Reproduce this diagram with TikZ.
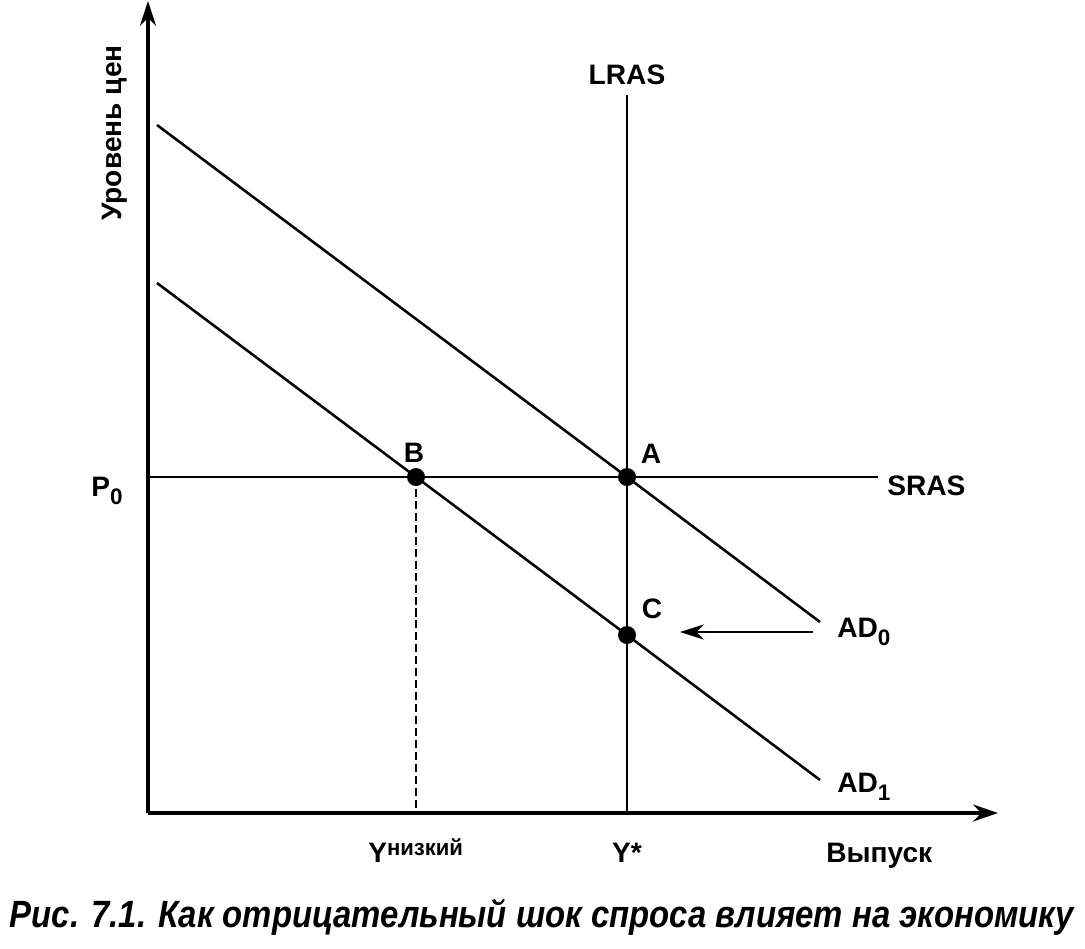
\documentclass[tikz,border=0pt]{standalone}
\usepackage{fontspec}
\setmainfont{Liberation Sans}
\usetikzlibrary{arrows.meta,calc}

\newcommand{\lowsub}[1]{\raisebox{-0.3em}{\fontsize{16}{18}\selectfont #1}}

\begin{document}
\begin{tikzpicture}[>=Stealth, x=0.025cm, y=-0.025cm,
  axis/.style={line width=2.4pt},
  curve/.style={line width=1.8pt},
  pt/.style={circle,fill=black,inner sep=0pt,minimum size=0.45cm},
  lbl/.style={font=\fontsize{20}{24}\selectfont\bfseries,inner sep=0pt}]
  \useasboundingbox (0,0) rectangle (1085,948);
  % axes
  \coordinate (O) at (148,813);
  \coordinate (ytop) at (148,1);
  \coordinate (xend) at (998,813);
  \draw[axis,-{Stealth[length=0.62cm,width=0.4cm]}] (O) -- (ytop);
  \draw[axis,-{Stealth[length=0.62cm,width=0.42cm]}] (O) -- (xend);
  % equilibrium points
  \node[pt] (A) at (627,477) {};
  \node[pt] (B) at (416,477) {};
  \node[pt] (C) at (627,635) {};
  % curves
  \coordinate (lras) at (627,95);
  \coordinate (sras) at (878,477);
  \coordinate (ad0s) at (157,125);
  \coordinate (ad0e) at (820,622);
  \coordinate (ad1s) at (157,283);
  \coordinate (ad1e) at (820,780);
  \draw[curve] (lras) -- (C.center) -- (A |- O);
  \draw[curve] (O |- A) -- (B.center) -- (A.center) -- (sras);
  \draw[curve] (ad0s) -- (A.center) -- (ad0e);
  \draw[curve] (ad1s) -- (B.center) -- (C.center) -- (ad1e);
  \draw[line width=1.6pt,dash pattern=on 5.7pt off 2.8pt] (B.center) -- (B |- O);
  % shift of demand
  \coordinate (shs) at (813,632);
  \coordinate (she) at (680,632);
  \draw[curve,-{Stealth[length=0.6cm,width=0.38cm]}] (shs) -- (she);
  % labels
  \node[lbl,anchor=base] (tLRAS) at (627,84) {LRAS};
  \node[lbl,anchor=base west] (tSRAS) at (887,495) {SRAS};
  \node[lbl,anchor=base west] (tAD0) at (837,637) {AD\lowsub{0}};
  \node[lbl,anchor=base west] (tAD1) at (837,792) {AD\lowsub{1}};
  \node[lbl,anchor=base west] (tP0) at (91,496) {P\lowsub{0}};
  \node[lbl,anchor=base] (tA) at (651,463) {A};
  \node[lbl,anchor=base] (tB) at (414,462) {B};
  \node[lbl,anchor=base] (tC) at (652,618) {C};
  \node[lbl,anchor=base] (tYst) at (627,862) {Y*};
  \node[lbl,anchor=base west] (tYlow) at (368,862)
    {Y\raisebox{0.17cm}{\resizebox{1.9cm}{0.42cm}{\fontsize{16}{18}\selectfont\bfseries низкий}}};
  \node[lbl,anchor=base west] (tOut) at (826,862) {Выпуск};
  \node[lbl,rotate=90] (tPrice) at (115,133) {Уровень цен};
  % caption
  \node[font=\fontsize{27}{32}\selectfont\bfseries\itshape,inner sep=0pt] (cap) at (542,917)
    {\resizebox{26.6cm}{\height}{Рис. 7.1. Как отрицательный шок спроса влияет на экономику}};
\end{tikzpicture}
\end{document}
